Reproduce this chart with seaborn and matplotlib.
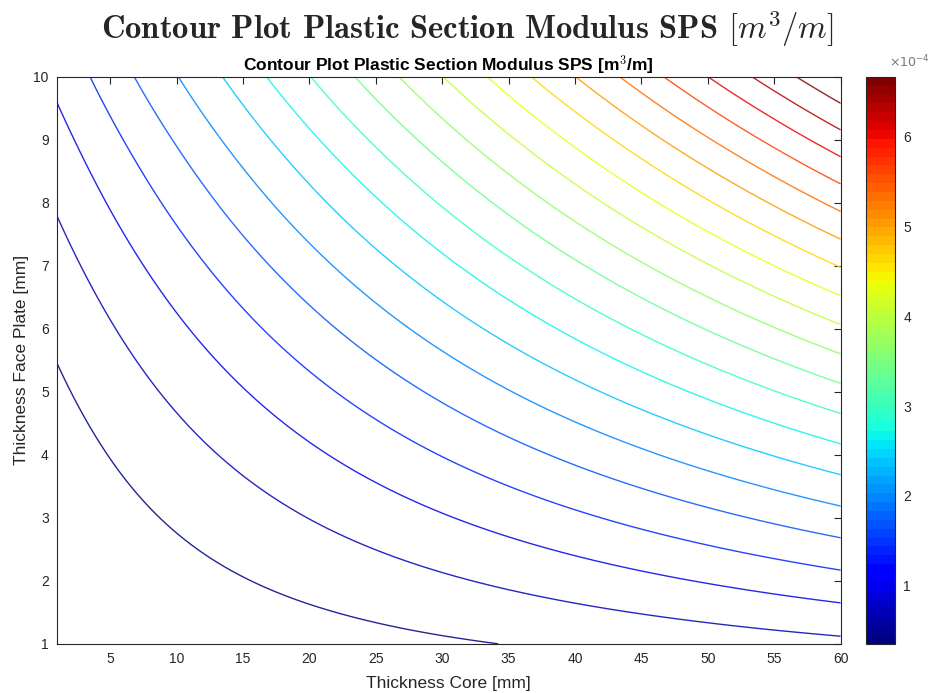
import numpy as np
import matplotlib
matplotlib.use("Agg")
import matplotlib.pyplot as plt
import matplotlib.colors as mcolors
import matplotlib.tri as mtri
import seaborn as sns

# --------------------------
# Data (section modulus, in 1e-6 m^3/m)
# --------------------------
core_mm = [1, 3, 5, 7.5, 10, 15, 20, 25, 30, 40, 50, 60]
face_mm = [1, 1.5, 2, 2.5, 3, 4, 5, 6, 7, 8, 9, 10]

# one row per face plate thickness, one column per core thickness
z_grid = [
    [2, 4, 6, 8.5, 11, 16, 21, 26, 31, 41, 51, 61],
    [3.75, 6.75, 9.75, 13.5, 17.25, 24.75, 32.25, 39.75, 47.25, 62.25, 77.25, 92.25],
    [6, 10, 14, 19, 24, 34, 44, 54, 64, 84, 104, 124],
    [8.75, 13.75, 18.75, 25, 31.25, 43.75, 56.25, 68.75, 81.25, 106.25, 131.25, 156.25],
    [12, 18, 24, 31.5, 39, 54, 69, 84, 99, 129, 159, 189],
    [20, 28, 36, 46, 56, 76, 96, 116, 136, 176, 216, 256],
    [30, 40, 50, 62.5, 75, 100, 125, 150, 175, 225, 275, 325],
    [42, 54, 66, 81, 96, 126, 156, 186, 216, 276, 336, 396],
    [56, 70, 84, 101.5, 119, 154, 189, 224, 259, 329, 399, 469],
    [72, 88, 104, 124, 144, 184, 224, 264, 304, 384, 464, 544],
    [90, 108, 126, 148.5, 171, 216, 261, 306, 351, 441, 531, 621],
    [110, 130, 150, 175, 200, 250, 300, 350, 400, 500, 600, 700],
]

levels = [35.2, 68.5, 101.7, 134.9, 168.2, 201.4, 234.7, 267.9, 301.1, 334.4,
          367.6, 400.9, 434.1, 467.3, 500.6, 533.8, 567.0, 600.3, 633.5, 666.8]

x_ticks = [5, 10, 15, 20, 25, 30, 35, 40, 45, 50, 55, 60]
y_ticks = [1, 2, 3, 4, 5, 6, 7, 8, 9, 10]
cbar_ticks = [1, 2, 3, 4, 5, 6]

# --------------------------
# Setup
# --------------------------
sns.set_theme(style="white")
plt.rcParams["font.family"] = ["Liberation Sans", "DejaVu Sans"]
plt.rcParams["mathtext.fontset"] = "cm"
plt.rcParams["xtick.direction"] = "in"
plt.rcParams["ytick.direction"] = "in"

grey = "#262626"
z = np.array(z_grid) / 100.0          # in units of 1e-4 m^3/m
lv = np.array(levels) / 100.0
cmap = plt.get_cmap("jet", 64)
norm = mcolors.Normalize(vmin=lv[0], vmax=lv[-1])

# triangulate the read grid and let matplotlib refine it for smooth lines
gx, gy = np.meshgrid(core_mm, face_mm)
triang = mtri.Triangulation(gx.ravel(), gy.ravel())
refiner = mtri.UniformTriRefiner(triang)
tri_fine, z_fine = refiner.refine_field(z.ravel(), subdiv=4)

fig = plt.figure(figsize=(9.35, 6.93), dpi=100)
ax = fig.add_axes([0.061, 0.071, 0.838, 0.818])
cax = fig.add_axes([0.926, 0.071, 0.031, 0.818])

ax.tricontour(tri_fine, z_fine, levels=lv, cmap=cmap, norm=norm,
              linewidths=1.0, alpha=0.85)

ax.set_xlim(1, 60)
ax.set_ylim(1, 10)
ax.set_xticks(x_ticks)
ax.set_yticks(y_ticks)
ax.tick_params(axis="both", which="both", direction="in", length=5, width=0.8,
               colors=grey, labelsize=10, top=True, right=True, pad=6)
for s in ax.spines.values():
    s.set_color(grey)
    s.set_linewidth(0.8)
ax.set_xlabel("Thickness Core [mm]", fontsize=12.5, color=grey, labelpad=7)
ax.set_ylabel("Thickness Face Plate [mm]", fontsize=12.5, color=grey, labelpad=3)
ax.set_title("Contour Plot Plastic Section Modulus SPS [m$^\\mathbf{3}$/m]",
             fontsize=12.5, fontweight="bold", color="black", pad=4)

# colorbar
sm = plt.cm.ScalarMappable(norm=norm, cmap=cmap)
cb = fig.colorbar(sm, cax=cax)
cb.set_ticks(cbar_ticks)
cb.ax.tick_params(direction="in", length=4, width=0.8, colors=grey, labelsize=10, pad=6)
cb.outline.set_edgecolor(grey)
cb.outline.set_linewidth(0.8)
cax.text(1.5, 1.012, r"$\times10^{-4}$", transform=cax.transAxes, fontsize=9,
         color="#777777", ha="center", va="bottom", math_fontfamily="dejavusans")

fig.text(0.5, 0.958, r"Contour Plot Plastic Section Modulus SPS $[m^3/m]$",
         fontsize=23.5, fontfamily="cmb10", ha="center", va="center")

plt.savefig("out.png", dpi=100)
plt.close()
